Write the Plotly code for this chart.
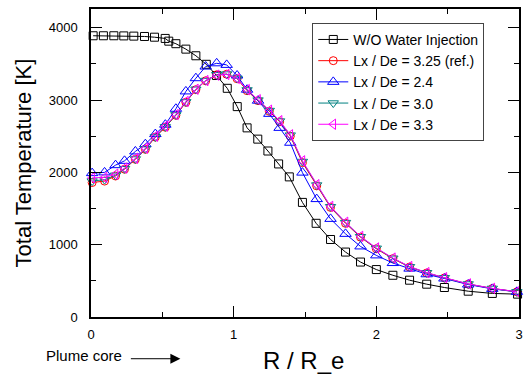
import plotly.graph_objects as go

# ---- data ----
x_wo = [0.015, 0.087, 0.16, 0.23, 0.30, 0.375, 0.445, 0.52, 0.545, 0.595, 0.665, 0.735, 0.808,
        0.88, 0.955, 1.025, 1.094, 1.169, 1.24, 1.315, 1.39, 1.482, 1.578, 1.679, 1.784, 1.889,
        2.0, 2.116, 2.233, 2.353, 2.477, 2.644, 2.813, 2.99]
t_wo = [3890, 3890, 3890, 3888, 3885, 3880, 3870, 3853, 3815, 3780, 3705, 3613, 3495,
        3340, 3163, 2910, 2616, 2460, 2296, 2117, 1938, 1585, 1296, 1072, 898, 760,
        656, 577, 509, 454, 408, 357, 326, 316]

x_w = [0.008, 0.095, 0.172, 0.235, 0.311, 0.381, 0.451, 0.521, 0.595, 0.665, 0.735, 0.804,
       0.881, 0.951, 1.024, 1.094, 1.171, 1.25, 1.322, 1.397, 1.482, 1.582, 1.679, 1.784,
       1.889, 2.0, 2.116, 2.233, 2.353, 2.477, 2.644, 2.813, 2.985]
t_325 = [1860, 1880, 1950, 2044, 2181, 2319, 2488, 2625, 2790, 2970, 3144, 3267, 3350, 3358,
         3295, 3130, 2992, 2845, 2700, 2502, 2135, 1814, 1516, 1296, 1104, 944, 807, 691,
         609, 540, 454, 394, 348]
t_24 = [1990, 2000, 2100, 2160, 2290, 2390, 2530, 2660, 2880, 3120, 3303, 3464, 3509, 3487,
        3340, 3144, 2992, 2810, 2616, 2410, 1997, 1631, 1357, 1150, 976, 852, 746, 669,
        591, 532, 449, 389, 348]
t_30 = [1880, 1900, 1960, 2050, 2185, 2325, 2490, 2630, 2795, 2975, 3150, 3270, 3350, 3360,
        3300, 3140, 3000, 2855, 2710, 2515, 2150, 1825, 1525, 1305, 1110, 950, 812, 695,
        612, 542, 456, 395, 348]
t_33 = [1925, 1930, 1975, 2060, 2195, 2335, 2500, 2640, 2800, 2980, 3150, 3270, 3345, 3355,
        3300, 3145, 3005, 2860, 2715, 2520, 2160, 1830, 1530, 1310, 1115, 955, 815, 698,
        614, 544, 458, 396, 350]

names = ["W/O Water Injection", "Lx / De = 3.25 (ref.)", "Lx / De = 2.4",
         "Lx / De = 3.0", "Lx / De = 3.3"]
x_ticks = [0, 1, 2, 3]
y_ticks = [0, 1000, 2000, 3000, 4000]

FONT = "Arial, Liberation Sans, sans-serif"

fig = go.Figure()
series = [
    (x_wo, t_wo, names[0], "black", "square-open", 8),
    (x_w, t_325, names[1], "#ff0000", "circle-open", 8),
    (x_w, t_24, names[2], "#0000ff", "triangle-up-open", 10),
    (x_w, t_30, names[3], "#008080", "triangle-down-open", 9),
    (x_w, t_33, names[4], "#ff00ff", "triangle-left-open", 9),
]
for xs, ys, nm, col, sym, sz in series:
    fig.add_trace(go.Scatter(
        x=xs, y=ys, name=nm, mode="lines+markers",
        line=dict(color=col, width=1),
        marker=dict(symbol=sym, size=sz, color=col, line=dict(width=1, color=col)),
        cliponaxis=False,
    ))

axis_common = dict(
    showline=True, linecolor="black", linewidth=1.5, mirror="ticks",
    ticks="inside", ticklen=11, tickwidth=1.2, tickcolor="black",
    showgrid=False, zeroline=False,
    tickfont=dict(family=FONT, size=13, color="black"),
)
fig.update_xaxes(range=[0, 3], tickvals=x_ticks, ticklabelstandoff=5,
                 minor=dict(dtick=0.5, ticks="inside", ticklen=5, tickcolor="black"),
                 **axis_common)
fig.update_yaxes(range=[0, 4260], tickvals=y_ticks, ticklabelstandoff=9,
                 minor=dict(dtick=500, ticks="inside", ticklen=5, tickcolor="black"),
                 **axis_common)

fig.update_layout(
    width=530, height=379,
    margin=dict(l=91, r=8, t=7, b=62),
    paper_bgcolor="white", plot_bgcolor="white",
    font=dict(family=FONT, color="black"),
    showlegend=True,
    legend=dict(
        x=0.517, y=0.955, xanchor="left", yanchor="top",
        bgcolor="white", bordercolor="#444", borderwidth=1,
        font=dict(family=FONT, size=14, color="black"),
        tracegroupgap=0, itemwidth=30,
    ),
    annotations=[
        dict(text="Total Temperature [K]", textangle=-90, xref="paper", yref="paper",
             x=-0.158, y=0.5, xanchor="center", yanchor="middle", showarrow=False,
             font=dict(family=FONT, size=22, color="black")),
        dict(text="R / R_e", xref="paper", yref="paper", x=0.497, y=-0.142,
             xanchor="center", yanchor="middle", showarrow=False,
             font=dict(family=FONT, size=24, color="black")),
        dict(text="Plume core", xref="paper", yref="paper", x=-0.0174, y=-0.126,
             xanchor="center", yanchor="middle", showarrow=False,
             font=dict(family=FONT, size=15, color="black")),
        dict(text="", xref="paper", yref="paper", x=0.2088, y=-0.1355,
             showarrow=True, ax=-51, ay=0, arrowhead=2, arrowsize=2,
             arrowwidth=1, arrowcolor="black"),
    ],
)

fig.write_html("out.html", config={"displayModeBar": False},
               post_script="document.body.style.margin='0';")
